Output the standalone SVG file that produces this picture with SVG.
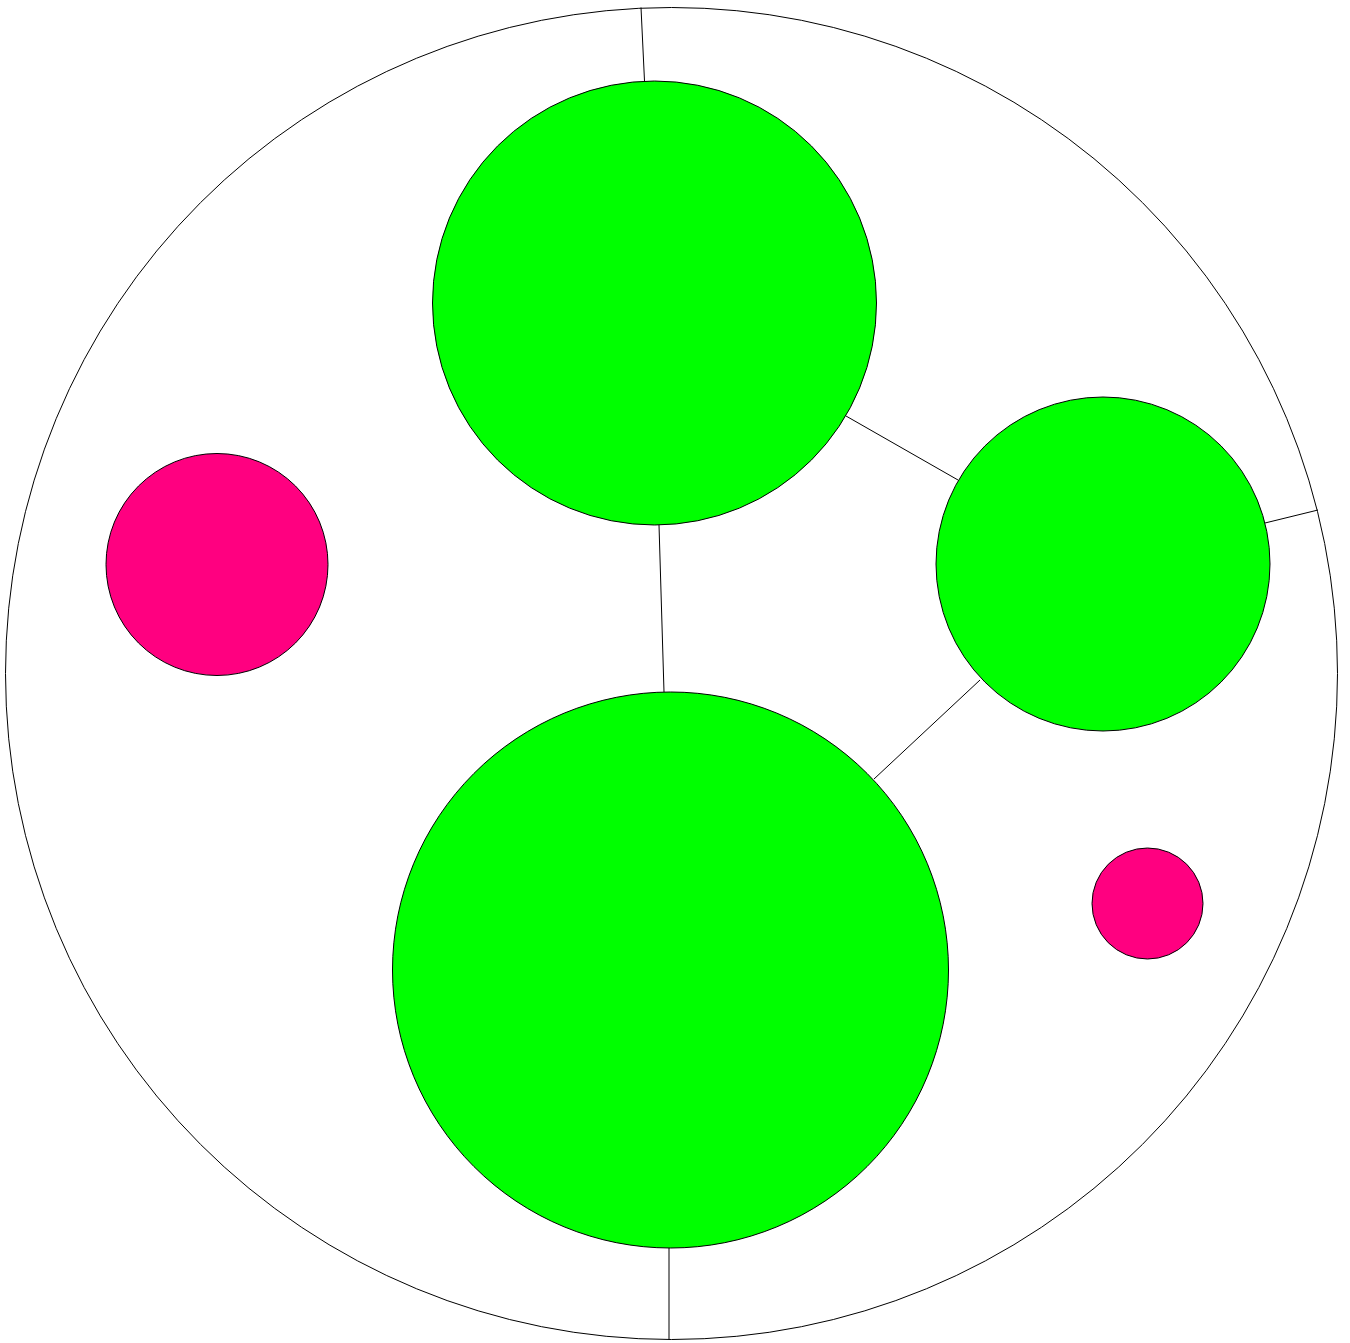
<svg xmlns="http://www.w3.org/2000/svg" width="1350" height="1343" viewBox="0 0 1350 1343">
<style>
.edge{stroke:#000;stroke-width:1;fill:none}
.outer{fill:#fff;stroke:#000;stroke-width:1}
.g{fill:#00ff00;stroke:#000;stroke-width:1}
.p{fill:#ff0080;stroke:#000;stroke-width:1}
</style>
<rect width="1350" height="1343" fill="#fff"/>
<g id="outer"><circle class="outer" cx="671.5" cy="673.5" r="666"/></g>
<g id="connectors">
<line class="edge" x1="641" y1="7.5" x2="644.5" y2="81"/>
<line class="edge" x1="659" y1="525" x2="664" y2="692"/>
<line class="edge" x1="846" y1="416" x2="958" y2="480"/>
<line class="edge" x1="1265" y1="523" x2="1318" y2="510"/>
<line class="edge" x1="980" y1="680" x2="874" y2="779"/>
<line class="edge" x1="669" y1="1248" x2="669" y2="1339.5"/>
</g>
<g id="n-top"><circle class="g" cx="654.5" cy="303" r="222"/></g>
<g id="n-right"><circle class="g" cx="1103" cy="564" r="167"/></g>
<g id="n-bottom"><circle class="g" cx="670.5" cy="970" r="278"/></g>
<g id="n-pink-left"><circle class="p" cx="217" cy="564.5" r="111"/></g>
<g id="n-pink-small"><circle class="p" cx="1147.5" cy="903.5" r="55.5"/></g>
</svg>
